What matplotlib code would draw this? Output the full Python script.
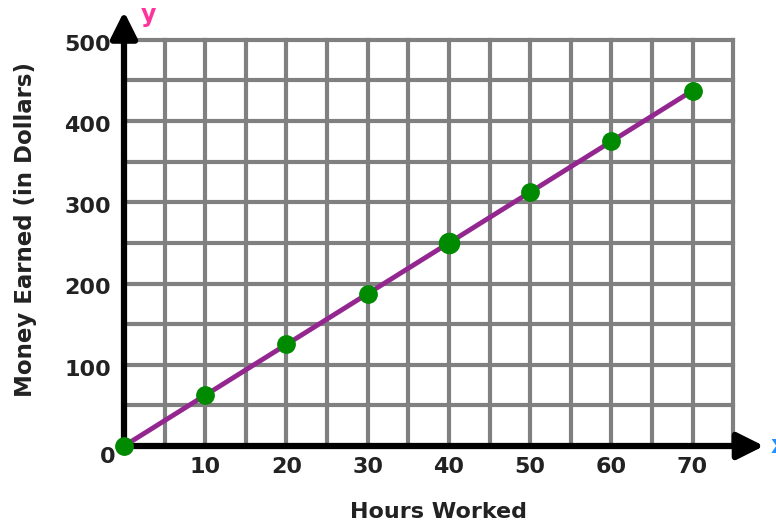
import matplotlib
matplotlib.use("Agg")
import matplotlib.pyplot as plt

# data: hours worked vs money earned
hours = [0, 10, 20, 30, 40, 50, 60, 70]
money = [0, 62.5, 125, 187.5, 250, 312.5, 375, 437.5]
x_ticks = [10, 20, 30, 40, 50, 60, 70]
y_ticks = [100, 200, 300, 400, 500]

plt.rcParams['font.family'] = ['DejaVu Sans']

fig = plt.figure(figsize=(7.76, 5.22), dpi=100)
ax = fig.add_axes([0.1598, 0.1456, 0.785, 0.778])
ax.set_xlim(0, 75)
ax.set_ylim(0, 500)

# grid every 5 hours / 50 dollars
for gx in range(5, 80, 5):
    ax.axvline(gx, color='#808080', lw=3, zorder=1, clip_on=False)
for gy in range(50, 550, 50):
    ax.axhline(gy, color='#808080', lw=3, zorder=1, clip_on=False)

for s in ax.spines.values():
    s.set_visible(False)
ax.set_xticks([])
ax.set_yticks([])

# axes with arrows
ax.annotate('', xy=(78.8, 0), xytext=(0, 0), annotation_clip=False,
            arrowprops=dict(arrowstyle='-|>,head_length=1.6,head_width=0.8', lw=4.5, color='black',
                            shrinkA=0, shrinkB=0), zorder=3)
ax.annotate('', xy=(0, 535), xytext=(0, 0), annotation_clip=False,
            arrowprops=dict(arrowstyle='-|>,head_length=1.6,head_width=0.8', lw=4.5, color='black',
                            shrinkA=0, shrinkB=0), zorder=3)

ax.plot(hours, money, color='#93278f', lw=3.5, zorder=4, clip_on=False)
sizes = [12.5 if h != 40 else 14.5 for h in hours]
for h, m, ms in zip(hours, money, sizes):
    ax.plot(h, m, 'o', color='#008a00', ms=ms, zorder=5, clip_on=False)

tick_font = dict(fontsize=16, fontweight='bold', color='#222222')
for t in x_ticks:
    ax.text(t, -13, str(t), ha='center', va='top', **tick_font)
for t in y_ticks:
    ax.text(-1.6, t - 6, str(t), ha='right', va='center', **tick_font)
ax.text(-1.0, -14, '0', ha='right', va='center', **tick_font)

ax.text(3.0, 531, 'y', color='#ff3399', fontsize=17, fontweight='bold', ha='center', va='center')
ax.text(79.6, 0, 'x', color='#1e90ff', fontsize=17, fontweight='bold', ha='left', va='center')

fig.text(0.565, 0.0, 'Hours Worked', ha='center', va='bottom', fontsize=16,
         fontweight='bold', color='#222222')
fig.text(0.033, 0.56, 'Money Earned (in Dollars)', ha='center', va='center', rotation=90,
         fontsize=16.5, fontweight='bold', color='#222222')

fig.savefig('out.png', dpi=100)
